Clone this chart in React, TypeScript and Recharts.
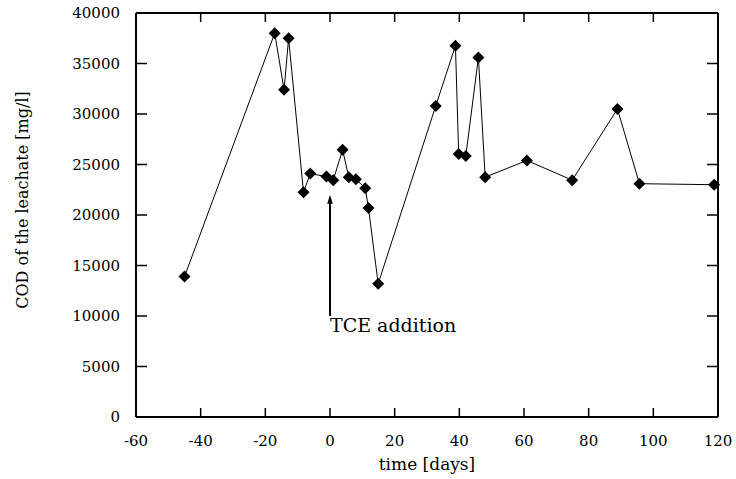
import { LineChart, Line, XAxis, YAxis, ReferenceLine } from "recharts";

const days = [
  -45, -17.1, -14.2, -12.8, -8.2, -6.1, -1.1, 1.0, 3.9, 5.8, 8.0, 10.9, 11.9, 14.9,
  32.7, 38.8, 39.8, 42, 45.9, 48, 60.9, 74.9, 88.9, 95.7, 118.8,
];
const cod = [
  13900, 38000, 32400, 37500, 22250, 24100, 23800, 23450, 26450, 23750, 23550, 22650, 20700, 13200,
  30800, 36750, 26050, 25850, 35600, 23750, 25400, 23450, 30500, 23100, 23000,
];
const xTicks = [-60, -40, -20, 0, 20, 40, 60, 80, 100, 120];
const yTicks = [0, 5000, 10000, 15000, 20000, 25000, 30000, 35000, 40000];

const noteDay = 0;
const noteFrom = 10000;
const noteTo = 22000;
const noteText = "TCE addition";

const data = days.map((day, i) => ({ day, cod: cod[i] }));

const font = "DejaVu Serif";
const txt = { fontFamily: font, fontSize: 15, fill: "#000" };
const frame = { stroke: "#000", strokeWidth: 2 };

function BottomTick({ x, y, payload }: any) {
  return (
    <text x={x} y={y + 29} textAnchor="middle" style={txt}>
      {payload.value}
    </text>
  );
}

function LeftTick({ x, y, payload }: any) {
  return (
    <text x={x - 16} y={y + 5} textAnchor="end" style={txt}>
      {payload.value}
    </text>
  );
}

// short inward marks at both ends of a full-height/full-width reference line
function VTicks({ x1, y1, y2 }: any) {
  const top = Math.min(y1, y2);
  const bottom = Math.max(y1, y2);
  return (
    <g>
      <line x1={x1} y1={bottom} x2={x1} y2={bottom - 9} stroke="#000" strokeWidth={1.5} />
      <line x1={x1} y1={top} x2={x1} y2={top + 9} stroke="#000" strokeWidth={1.5} />
    </g>
  );
}

function HTicks({ x1, x2, y1 }: any) {
  const left = Math.min(x1, x2);
  const right = Math.max(x1, x2);
  return (
    <g>
      <line x1={left} y1={y1} x2={left + 11} y2={y1} stroke="#000" strokeWidth={1.5} />
      <line x1={right} y1={y1} x2={right - 11} y2={y1} stroke="#000" strokeWidth={1.5} />
    </g>
  );
}

function Diamond({ cx, cy }: any) {
  const r = 6;
  return <polygon points={`${cx},${cy - r} ${cx + r},${cy} ${cx},${cy + r} ${cx - r},${cy}`} fill="#000" />;
}

function Arrow({ x1, y1, y2 }: any) {
  const top = Math.min(y1, y2);
  const bottom = Math.max(y1, y2);
  const x = x1;
  return (
    <g>
      <line x1={x} y1={bottom} x2={x} y2={top + 6} stroke="#000" strokeWidth={2} />
      <polygon points={`${x - 2.8},${top + 9} ${x},${top} ${x + 2.8},${top + 9}`} fill="#000" />
      <text x={x} y={bottom + 16} style={{ ...txt, fontSize: 19 }}>
        {noteText}
      </text>
    </g>
  );
}

export default function App() {
  return (
    <div style={{ position: "absolute", left: 0, top: 0, background: "#fff" }}>
      <LineChart width={736} height={479} data={data} margin={{ top: 12, right: 17, bottom: 0, left: 0 }}>
        <XAxis
          xAxisId="bottom"
          dataKey="day"
          type="number"
          domain={[-60, 120]}
          ticks={xTicks}
          interval={0}
          height={62}
          axisLine={frame}
          tickLine={false}
          tickSize={0}
          tickMargin={0}
          tick={(p: any) => <BottomTick {...p} />}
          label={{
            content: () => (
              <text x={427} y={470} textAnchor="middle" style={{ ...txt, fontSize: 17 }}>
                time [days]
              </text>
            ),
          }}
        />
        <XAxis
          xAxisId="top"
          orientation="top"
          dataKey="day"
          type="number"
          domain={[-60, 120]}
          height={1}
          axisLine={frame}
          tickLine={false}
          tick={false}
        />
        <YAxis
          yAxisId="left"
          type="number"
          domain={[0, 40000]}
          ticks={yTicks}
          interval={0}
          width={136}
          axisLine={frame}
          tickLine={false}
          tickSize={0}
          tickMargin={0}
          tick={(p: any) => <LeftTick {...p} />}
          label={{
            content: () => (
              <text transform="translate(28,200) rotate(-90)" textAnchor="middle" style={{ ...txt, fontSize: 16 }}>
                COD of the leachate [mg/l]
              </text>
            ),
          }}
        />
        <YAxis
          yAxisId="right"
          orientation="right"
          type="number"
          domain={[0, 40000]}
          width={1}
          axisLine={frame}
          tickLine={false}
          tick={false}
        />
        {xTicks.map((t) => (
          <ReferenceLine
            key={`x${t}`}
            xAxisId="bottom"
            yAxisId="left"
            x={t}
            ifOverflow="visible"
            shape={(p: any) => <VTicks {...p} />}
          />
        ))}
        {yTicks.map((t) => (
          <ReferenceLine
            key={`y${t}`}
            xAxisId="bottom"
            yAxisId="left"
            y={t}
            ifOverflow="visible"
            shape={(p: any) => <HTicks {...p} />}
          />
        ))}
        <ReferenceLine
          xAxisId="bottom"
          yAxisId="left"
          segment={[
            { x: noteDay, y: noteFrom },
            { x: noteDay, y: noteTo },
          ]}
          shape={(p: any) => <Arrow {...p} />}
        />
        <Line
          xAxisId="bottom"
          yAxisId="left"
          dataKey="cod"
          type="linear"
          stroke="#000"
          strokeWidth={1}
          dot={(p: any) => <Diamond key={p.index} {...p} />}
          activeDot={false}
          isAnimationActive={false}
        />
      </LineChart>
    </div>
  );
}
